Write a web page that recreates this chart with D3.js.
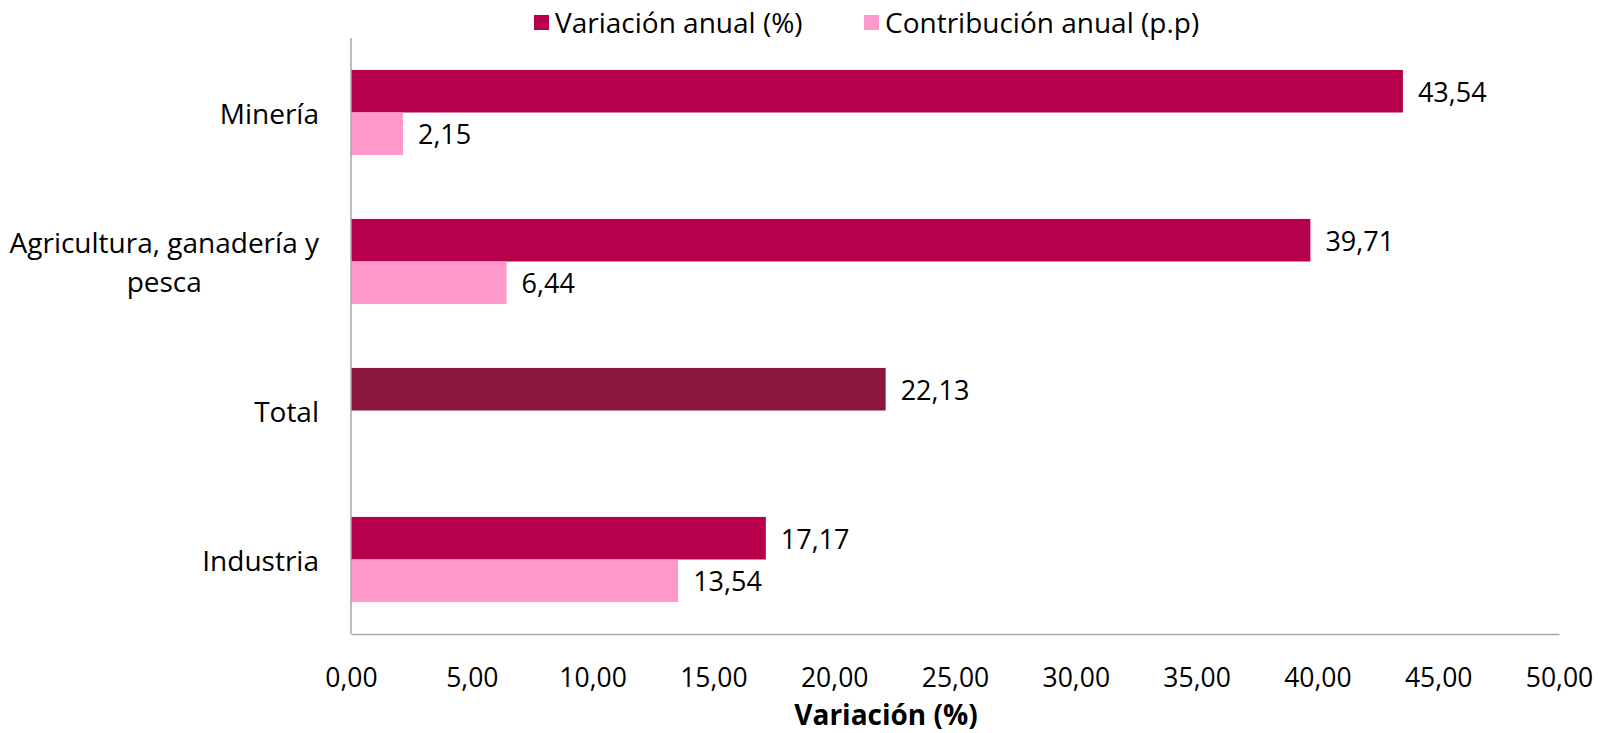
<!DOCTYPE html>
<html>
<head>
<meta charset="utf-8">
<script src="https://cdn.jsdelivr.net/npm/d3@7"></script>
<style>
  html, body { margin: 0; padding: 0; background: #fff; }
  svg { display: block; font-family: "Open Sans", "Noto Sans", sans-serif; }
</style>
</head>
<body>
<svg id="chart" width="1598" height="733"></svg>
<script>
// Sector data: annual variation and annual contribution
const categories = ["Minería", "Agricultura, ganadería y pesca", "Total", "Industria"];
const categoryLines = [["Minería"], ["Agricultura, ganadería y", "pesca"], ["Total"], ["Industria"]];
const variacion = [43.54, 39.71, 22.13, 17.17];
const contribucion = [2.15, 6.44, null, 13.54];
const xTicks = [0, 5, 10, 15, 20, 25, 30, 35, 40, 45, 50];
const seriesNames = ["Variación anual (%)", "Contribución anual (p.p)"];
const axisTitle = "Variación (%)";

const colVar = "#B7004B";
const colTotal = "#8C153C";
const colContrib = "#FF99CC";
const axisColor = "#A6A6A6";

const locale = d3.formatLocale({ decimal: ",", thousands: ".", grouping: [3], currency: ["", ""] });
const fmt = locale.format(".2f");

const svg = d3.select("#chart");
const plot = { left: 351, right: 1559, top: 38, bottom: 634 };

const x = d3.scaleLinear().domain([0, 50]).range([plot.left, plot.right]);
const y = d3.scaleBand().domain(categories).range([plot.top, plot.bottom]).padding(0);
const inner = d3.scaleBand().domain(["var", "con"]).range([0, y.bandwidth()])
  .paddingInner(0).paddingOuter(0.75);

const rows = categories.map((c, i) => ({ c, i, v: variacion[i], p: contribucion[i] }));

// Bars: annual variation
svg.append("g").selectAll("rect").data(rows).join("rect")
  .attr("x", x(0))
  .attr("y", d => y(d.c) + inner("var"))
  .attr("width", d => x(d.v) - x(0))
  .attr("height", inner.bandwidth())
  .attr("fill", d => d.c === "Total" ? colTotal : colVar);

// Bars: annual contribution
svg.append("g").selectAll("rect").data(rows.filter(d => d.p != null)).join("rect")
  .attr("x", x(0))
  .attr("y", d => y(d.c) + inner("con"))
  .attr("width", d => x(d.p) - x(0))
  .attr("height", inner.bandwidth())
  .attr("fill", colContrib);

// Value labels
const labelG = svg.append("g").attr("font-size", 27).attr("fill", "#000");
labelG.selectAll("text.v").data(rows).join("text")
  .attr("class", "v")
  .attr("x", d => x(d.v) + 15)
  .attr("y", d => y(d.c) + inner("var") + inner.bandwidth() / 2)
  .attr("dominant-baseline", "central")
  .text(d => fmt(d.v));
labelG.selectAll("text.p").data(rows.filter(d => d.p != null)).join("text")
  .attr("class", "p")
  .attr("x", d => x(d.p) + 15)
  .attr("y", d => y(d.c) + inner("con") + inner.bandwidth() / 2)
  .attr("dominant-baseline", "central")
  .text(d => fmt(d.p));

// Axes
const xAxis = d3.axisBottom(x).tickValues(xTicks).tickFormat(fmt).tickSize(0).tickPadding(0);
const gx = svg.append("g").attr("transform", `translate(0,${plot.bottom})`).call(xAxis);
gx.select(".domain").attr("stroke", axisColor).attr("stroke-width", 1.5);
gx.selectAll(".tick text").attr("font-size", 26.5).attr("fill", "#000")
  .attr("font-family", "Open Sans, Noto Sans, sans-serif")
  .attr("dy", null).attr("y", 53);

svg.append("line")
  .attr("x1", plot.left).attr("x2", plot.left)
  .attr("y1", plot.top).attr("y2", plot.bottom)
  .attr("stroke", axisColor).attr("stroke-width", 1.5);

// Category labels (wrapped lines centered within right-aligned block)
const catG = svg.append("g").attr("font-size", 28).attr("fill", "#000");
const labelRight = 319;
const lineH = 39;
categoryLines.forEach((lines, i) => {
  const cy = y(categories[i]) + y.bandwidth() / 2;
  const t = catG.append("text").attr("text-anchor", "middle");
  const spans = lines.map((ln, k) => t.append("tspan")
    .attr("y", cy + (k - (lines.length - 1) / 2) * lineH)
    .attr("dominant-baseline", "central")
    .text(ln));
  const maxW = d3.max(spans, s => s.node().getComputedTextLength());
  spans.forEach(s => s.attr("x", labelRight - maxW / 2));
});

// Axis title
svg.append("text")
  .attr("x", 886).attr("y", 714)
  .attr("text-anchor", "middle").attr("dominant-baseline", "central")
  .attr("font-size", 28).attr("font-weight", "bold").attr("fill", "#000")
  .text(axisTitle);

// Legend
const legend = [
  { name: seriesNames[0], color: colVar, x: 534 },
  { name: seriesNames[1], color: colContrib, x: 864 }
];
const lg = svg.append("g");
legend.forEach(l => {
  lg.append("rect").attr("x", l.x).attr("y", 15).attr("width", 15).attr("height", 15).attr("fill", l.color);
  lg.append("text").attr("x", l.x + 21).attr("y", 22)
    .attr("dominant-baseline", "central").attr("font-size", 28).attr("fill", "#000")
    .text(l.name);
});
</script>
</body>
</html>
